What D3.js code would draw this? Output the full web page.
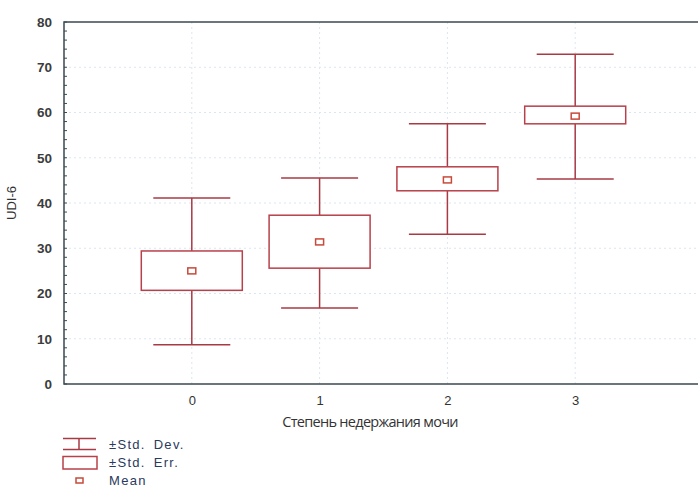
<!DOCTYPE html>
<html>
<head>
<meta charset="utf-8">
<script src="https://cdn.jsdelivr.net/npm/d3@7"></script>
<style>
  body { margin: 0; background: #fff; }
  svg { display: block; }
</style>
</head>
<body>
<svg width="698" height="490"></svg>
<script>
// groups and their stats
var groups = [0, 1, 2, 3];
var means = [25.0, 31.4, 45.1, 59.2];
var seLow = [20.7, 25.6, 42.7, 57.5];
var seHigh = [29.4, 37.3, 48.0, 61.4];
var sdLow = [8.7, 16.8, 33.1, 45.3];
var sdHigh = [41.1, 45.5, 57.5, 72.9];
var yTicks = [0, 10, 20, 30, 40, 50, 60, 70, 80];

var svg = d3.select("svg"),
    pLeft = 64, pRight = 703, pTop = 22, pBottom = 384;

var x = d3.scaleLinear().domain([-1, 4]).range([pLeft, pRight]);
var y = d3.scaleLinear().domain([0, 80]).range([pBottom, pTop]);

var lineColor = "#a83a44";

// faint dotted grid
svg.append("g").selectAll("line")
    .data(yTicks.slice(1, -1))
    .join("line")
    .attr("x1", pLeft).attr("x2", pRight)
    .attr("y1", d => y(d)).attr("y2", d => y(d))
    .attr("stroke", "#dce6f0").attr("stroke-width", 1)
    .attr("stroke-dasharray", "2,3");
svg.append("g").selectAll("line")
    .data(groups)
    .join("line")
    .attr("x1", d => x(d)).attr("x2", d => x(d))
    .attr("y1", pTop).attr("y2", pBottom)
    .attr("stroke", "#dce6f0").attr("stroke-width", 1)
    .attr("stroke-dasharray", "2,3");

// frame
svg.append("path")
    .attr("d", `M${pRight},${pTop}H${pLeft}V${pBottom}H${pRight}`)
    .attr("fill", "none").attr("stroke", "#3a4a50").attr("stroke-width", 1.5);

// y axis
var yAxis = d3.axisLeft(y).tickValues(yTicks).tickSize(0).tickPadding(12);
var gy = svg.append("g").attr("transform", `translate(${pLeft},0)`).call(yAxis);
gy.select(".domain").remove();
gy.selectAll("text")
    .style("font-family", "Arial, 'Liberation Sans', sans-serif")
    .style("font-size", "13.5px").style("font-weight", "bold").attr("fill", "#3c3c3c");

// minor ticks inside
svg.append("g").selectAll("line")
    .data(d3.range(0, 81, 2))
    .join("line")
    .attr("x1", pLeft).attr("x2", pLeft + 3)
    .attr("y1", d => y(d)).attr("y2", d => y(d))
    .attr("stroke", "#3a4a50").attr("stroke-width", 1);

// x axis labels
var xAxis = d3.axisBottom(x).tickValues(groups).tickSize(0).tickPadding(12).tickFormat(d3.format("d"));
var gx = svg.append("g").attr("transform", `translate(0,${pBottom})`).call(xAxis);
gx.select(".domain").remove();
gx.selectAll("text")
    .style("font-family", "Arial, 'Liberation Sans', sans-serif")
    .style("font-size", "13px").attr("fill", "#333");

svg.append("text")
    .attr("x", 370).attr("y", 427)
    .attr("text-anchor", "middle")
    .style("font-family", "'Open Sans', 'Noto Sans', sans-serif")
    .style("font-size", "14.5px").style("letter-spacing", "-0.7px")
    .attr("fill", "#333")
    .text("Степень недержания мочи");

svg.append("text")
    .attr("transform", `translate(16,${y(40)}) rotate(-90)`)
    .attr("text-anchor", "middle")
    .style("font-family", "Arial, 'Liberation Sans', sans-serif")
    .style("font-size", "13px").attr("fill", "#333")
    .text("UDI-6");

// boxes
var boxW = 101, capW = 77, meanW = 8, meanH = 6;
var g = svg.append("g");
groups.forEach(function(d, i) {
  var cx = x(d);
  g.append("line").attr("x1", cx).attr("x2", cx)
      .attr("y1", y(sdHigh[i])).attr("y2", y(seHigh[i]))
      .attr("stroke", lineColor).attr("stroke-width", 1.5);
  g.append("line").attr("x1", cx).attr("x2", cx)
      .attr("y1", y(seLow[i])).attr("y2", y(sdLow[i]))
      .attr("stroke", lineColor).attr("stroke-width", 1.5);
  [sdHigh[i], sdLow[i]].forEach(function(v) {
    g.append("line").attr("x1", cx - capW / 2).attr("x2", cx + capW / 2)
        .attr("y1", y(v)).attr("y2", y(v))
        .attr("stroke", lineColor).attr("stroke-width", 1.5);
  });
  g.append("rect")
      .attr("x", cx - boxW / 2).attr("y", y(seHigh[i]))
      .attr("width", boxW).attr("height", y(seLow[i]) - y(seHigh[i]))
      .attr("fill", "#fff").attr("stroke", "#b8404a").attr("stroke-width", 1.5);
  g.append("rect")
      .attr("x", cx - meanW / 2).attr("y", y(means[i]) - meanH / 2)
      .attr("width", meanW).attr("height", meanH)
      .attr("fill", "#fff").attr("stroke", "#c84a3a").attr("stroke-width", 1.5);
});

// legend
var lg = svg.append("g");
lg.append("path").attr("d", "M63,438.5H96M79,438.5V449.5M63,449.5H96")
    .attr("fill", "none").attr("stroke", lineColor).attr("stroke-width", 1.5);
lg.append("rect").attr("x", 63).attr("y", 456.5).attr("width", 34).attr("height", 12.5)
    .attr("fill", "#fff").attr("stroke", "#b8404a").attr("stroke-width", 1.5);
lg.append("rect").attr("x", 76).attr("y", 478).attr("width", 7).attr("height", 5)
    .attr("fill", "#fff").attr("stroke", "#c84a3a").attr("stroke-width", 1.5);
var labels = ["±Std. Dev.", "±Std. Err.", "Mean"];
lg.selectAll("text").data(labels).join("text")
    .attr("x", 109).attr("y", (d, i) => 449 + i * 18)
    .style("font-family", "Arial, 'Liberation Sans', sans-serif")
    .style("font-size", "13px").style("letter-spacing", "1.3px").style("word-spacing", "3px")
    .attr("fill", "#2a3a60")
    .text(d => d);
</script>
</body>
</html>
